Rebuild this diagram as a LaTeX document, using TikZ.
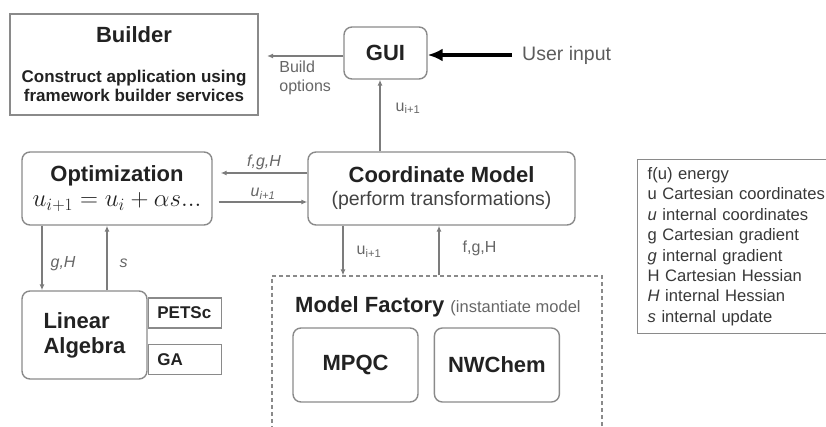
\documentclass[tikz,border=0pt]{standalone}
\usepackage{fontspec}
\setmainfont{Liberation Sans}
\usetikzlibrary{arrows.meta,positioning}
\definecolor{boxgray}{HTML}{8A8A8A}
\definecolor{linegray}{HTML}{7C7C7C}
\definecolor{taggray}{HTML}{666666}
\definecolor{ink}{HTML}{222222}
\newcommand{\fsz}[2]{\fontsize{#1}{#2}\selectfont}

\begin{document}
\begin{tikzpicture}[x=1pt,y=-1pt,node distance=15pt,every node/.style={text=ink},block/.style={rectangle,rounded corners=8pt,draw=boxgray,line width=1.4pt,inner sep=0pt,align=center,font=\bfseries\fsz{22}{25}},plain/.style={rectangle,draw=boxgray,line width=1.4pt,inner sep=0pt},lib/.style={plain,minimum width=73pt,minimum height=30pt,text width=55pt,align=left,font=\bfseries\fsz{17}{19}},tag/.style={inner sep=0pt,text=taggray,font=\fsz{16}{19}},arrow/.style={-{Latex[length=6pt,width=5pt]},draw=linegray,line width=1.3pt},bigarrow/.style={-{Latex[length=15pt,width=13pt]},draw=black,line width=3.5pt}]
\useasboundingbox (0,0) rectangle (826,427);
\clip (0,0) rectangle (826,427);
% top row
\node[plain,minimum width=248pt,minimum height=101pt,align=center,font=\bfseries\fsz{17}{19}](builder) at (134,64.5){{\fsz{22}{25}Builder}\\[21pt]Construct application using\\framework builder services};
\node[block,minimum width=83pt,minimum height=52pt](gui) at (385.5,53){GUI};
\node[anchor=west,inner sep=0pt,text=taggray!90!black,font=\fsz{19.5}{22}](user) at (522,55){User input};
\coordinate (bopt) at (267,56);
% middle row
\node[block,minimum width=190pt,minimum height=73pt](opt) at (117,188.5){Optimization\\{\mdseries\fsz{24}{24}$u_{i+1}=u_i+\alpha s...$}};
\node[block,minimum width=267pt,minimum height=73pt](coord) at (441.5,188.5){Coordinate Model\\[-2pt]{\mdseries\fsz{19.5}{22}\color{ink!85}(perform transformations)}};
% bottom row
\node[block,minimum width=125pt,minimum height=88pt,align=left](la) at (84.5,335){Linear\\Algebra};
\node[lib,anchor=west](petsc) at ([yshift=22pt]la.east){PETSc};
\node[lib,below=of petsc](ga){GA};
\node[plain,dashed,dash pattern=on 4pt off 3pt,line width=1.2pt,minimum width=330pt,minimum height=184pt](factory) at (437,368){};
\node[anchor=base west,inner sep=0pt,font=\bfseries\fsz{22}{25}](mflabel) at (295,312){Model Factory {\mdseries\fsz{16.5}{19}\color{taggray}(instantiate model}};
\node[block,minimum width=125pt,minimum height=74pt](mpqc) at (355.5,365){MPQC};
\node[block,minimum width=125pt,minimum height=74pt,right=of mpqc](nwchem){NWChem};
% symbols
\node[plain,anchor=north west,minimum width=210pt,minimum height=174pt,text width=190pt,align=left,text=ink!90,font=\fsz{16.6}{20.4}](legend) at (637,159){f(u) energy\\u Cartesian coordinates\\\textit{u} internal coordinates\\g Cartesian gradient\\\textit{g} internal gradient\\H Cartesian Hessian\\\textit{H} internal Hessian\\\textit{s} internal update};
% data flow
\draw[bigarrow]([xshift=-10pt]user.west)--([yshift=-2pt]gui.east);
\draw[arrow]([yshift=-3pt]gui.west)--node[tag,below=4pt,align=left]{Build\\options}(bopt);
\draw[arrow]([xshift=-61.5pt]coord.north)--node[tag,pos=.6,right=15pt]{u\textsubscript{i+1}}([xshift=-5.5pt]gui.south);
\draw[arrow]([yshift=15.5pt]coord.west)--node[tag,above=3pt,font=\itshape\fsz{16}{19}]{f,g,H}([xshift=8pt,yshift=15.5pt]opt.east);
\draw[arrow]([xshift=6pt,yshift=-13.5pt]opt.east)--node[tag,above=2pt,font=\itshape\fsz{16}{19}]{u\textsubscript{i+1}}([yshift=-13.5pt]coord.west);
\draw[arrow]([xshift=-75pt]opt.south)--node[tag,pos=.58,right=8pt,font=\itshape\fsz{16}{19}]{g,H}([xshift=-42.5pt]la.north);
\draw[arrow]([xshift=22.5pt]la.north)--node[tag,pos=.42,right=12pt,font=\itshape\fsz{16}{19}]{s}([xshift=-10pt]opt.south);
\draw[arrow]([xshift=-98.5pt]coord.south)--node[tag,pos=.53,right=13pt]{u\textsubscript{i+1}}([xshift=-94pt]factory.north);
\draw[arrow]([xshift=2pt]factory.north)--node[tag,pos=.55,right=23pt]{f,g,H}([xshift=-2.5pt]coord.south);
\end{tikzpicture}
\end{document}
